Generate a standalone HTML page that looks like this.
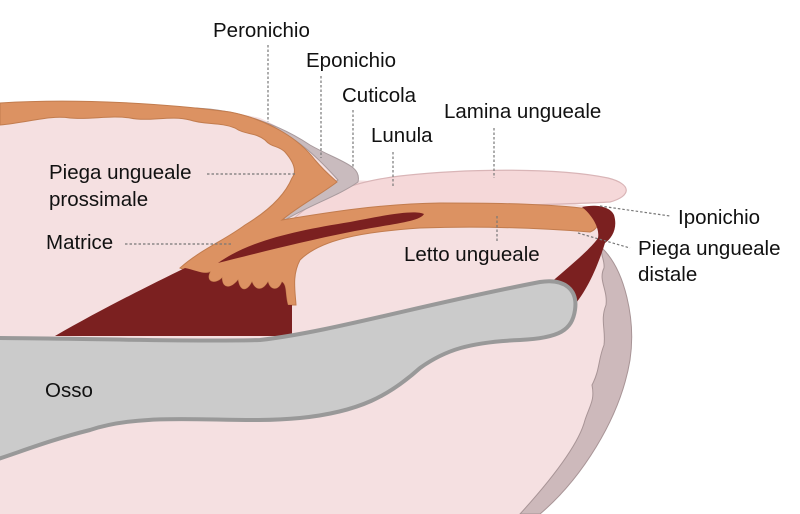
<!DOCTYPE html>
<html><head><meta charset="utf-8"><style>
html,body{margin:0;padding:0;background:#fff;}
svg{display:block;}
text{font-family:"Liberation Sans",Arial,sans-serif;font-size:20.5px;fill:#111;}
.d{stroke:#777;stroke-width:1.2;stroke-dasharray:2.5 2;fill:none;}
</style></head><body>
<svg width="800" height="514" viewBox="0 0 800 514" xmlns="http://www.w3.org/2000/svg">
<!-- skin -->
<path d="M0,103 C100,100 200,104 260,118 C300,135 320,160 340,180 C400,180 520,195 600,208 C612,220 606,236 602,248 C625,270 636,320 630,360 C620,420 580,480 540,514 L0,514 Z" fill="#f5e0e1"/>
<!-- distal rim -->
<path d="M602,248 C625,270 636,320 630,360 C620,420 580,480 540,514 L520,514 C560,470 580,440 585,420 C590,405 595,400 592,385 C600,370 598,360 604,345 C606,330 600,320 606,305 C608,290 598,280 604,268 C605,260 600,255 602,248 Z" fill="#cdb9bb" stroke="#a89496" stroke-width="1"/>
<!-- nail plate -->
<path d="M292,220 C320,195 350,182 400,176 C470,168 560,168 608,178 C632,184 632,196 610,202 C560,205 450,206 400,210 C350,213 320,218 292,220 Z" fill="#f5d8d9" stroke="#d9b5b7" stroke-width="1.2"/>
<!-- gray eponychium layer -->
<path d="M195,108 C240,110 280,125 310,145 C340,162 362,165 358,182 C340,195 310,205 285,220 L282,214 C310,195 330,185 338,180 C320,160 300,140 270,125 C240,115 215,112 195,108 Z" fill="#c9bbbe" stroke="#a89a9d" stroke-width="1"/>
<!-- orange epidermis -->
<path d="M0,103 C80,98 170,104 230,112 C270,120 300,140 315,160 C325,172 335,180 337,182 C320,195 300,205 282,220 C330,212 380,204 440,203 C500,203 560,204 595,210 C600,220 600,228 590,232 C540,228 480,226 420,228 C360,232 320,240 300,260 C292,275 295,290 296,305 L288,305 C285,295 287,285 282,282 C278,292 270,290 268,282 C262,292 255,290 252,282 C247,292 240,292 238,280 C230,290 222,288 222,278 C215,285 205,282 210,272 C200,275 190,272 180,268 C200,250 225,240 245,225 C270,210 285,195 292,178 C298,170 292,160 285,152 C278,145 272,148 265,140 C255,132 245,135 235,128 C220,122 205,125 190,120 C170,115 150,122 130,118 C110,115 90,120 70,118 C50,115 30,122 0,125 Z" fill="#dc9262" stroke="#c27c4e" stroke-width="1"/>
<!-- matrix strip -->
<path d="M218,263 C250,240 300,230 350,222 C390,214 415,210 424,214 C420,222 390,224 350,232 C300,242 250,255 218,263 Z" fill="#7b2020"/>
<!-- dark red triangle -->
<path d="M55,336 C100,310 150,285 185,268 C195,270 205,275 210,272 C205,282 215,285 222,278 C222,288 230,290 238,280 C240,292 247,292 252,282 C255,290 262,292 268,282 C270,290 278,292 282,282 C287,285 285,295 288,305 L292,305 L292,336 Z" fill="#7b2020"/>
<!-- hyponychium -->
<path d="M582,207 C595,204 610,206 614,215 C618,228 612,238 605,243 C598,265 588,290 572,308 L548,285 C565,270 590,250 598,238 C600,228 592,215 582,207 Z" fill="#7b2020"/>
<!-- bone -->
<path d="M-5,338 C60,338 200,342 260,340 C330,332 420,305 540,282 C565,278 578,290 575,310 C572,330 560,338 520,340 C470,342 445,350 420,368 C390,395 360,412 300,418 C230,425 150,410 90,430 C50,440 20,452 -5,460 Z" fill="#cbcbcb" stroke="#999" stroke-width="4"/>
<!-- leaders -->
<line class="d" x1="268" y1="45" x2="268" y2="122"/>
<line class="d" x1="321" y1="76" x2="321" y2="158"/>
<line class="d" x1="353" y1="110" x2="353" y2="168"/>
<line class="d" x1="393" y1="152" x2="393" y2="186"/>
<line class="d" x1="494" y1="128" x2="494" y2="178"/>
<line class="d" x1="207" y1="174" x2="297" y2="174"/>
<line class="d" x1="125" y1="244" x2="232" y2="244"/>
<line class="d" x1="497" y1="216" x2="497" y2="243"/>
<line class="d" x1="600" y1="206" x2="670" y2="216"/>
<line class="d" x1="578" y1="233" x2="630" y2="248"/>
<!-- labels -->
<text x="213" y="37">Peronichio</text>
<text x="306" y="67">Eponichio</text>
<text x="342" y="102">Cuticola</text>
<text x="371" y="142">Lunula</text>
<text x="444" y="118">Lamina ungueale</text>
<text x="49" y="179">Piega ungueale</text>
<text x="49" y="206">prossimale</text>
<text x="46" y="249">Matrice</text>
<text x="404" y="261">Letto ungueale</text>
<text x="678" y="224">Iponichio</text>
<text x="638" y="255">Piega ungueale</text>
<text x="638" y="281">distale</text>
<text x="45" y="397">Osso</text>
</svg>
</body></html>
